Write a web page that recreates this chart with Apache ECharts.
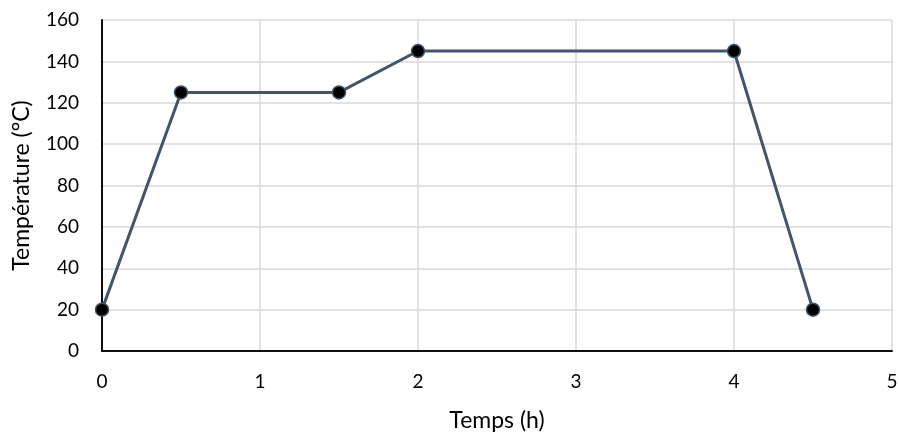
<!DOCTYPE html>
<html><head><meta charset="utf-8">
<script src="https://cdn.jsdelivr.net/npm/echarts@6/dist/echarts.min.js"></script>
<style>html,body{margin:0;padding:0;background:#fff}#c{width:899px;height:434px}</style>
</head><body><div id="c"></div>
<script>
const timeH = [0, 0.5, 1.5, 2, 4, 4.5];
const tempC = [20, 125, 125, 145, 145, 20];
const xTitle = 'Temps (h)';
const yTitle = 'Température (°C)';

const chart = echarts.init(document.getElementById('c'), null, {renderer: 'canvas'});
const font = 'Lato';
const frameLine = {show: true, lineStyle: {color: '#000', width: 1.5}};
chart.setOption({
  animation: false,
  grid: {left: 102, right: 7, top: 20, bottom: 83, containLabel: false, outerBoundsMode: 'none'},
  xAxis: [{
    type: 'value', min: 0, max: 5, interval: 1,
    name: xTitle, nameLocation: 'middle', nameGap: 58,
    nameTextStyle: {fontFamily: font, fontSize: 23, color: '#000'},
    axisLine: frameLine,
    axisTick: {show: false},
    axisLabel: {fontFamily: font, fontSize: 19, color: '#000', margin: 21},
    splitLine: {show: true, lineStyle: {color: '#d9d9d9', width: 1.5}}
  }, {
    type: 'value', min: 0, max: 5, interval: 1, position: 'top',
    axisLine: frameLine, axisTick: {show: false}, axisLabel: {show: false}, splitLine: {show: false}
  }],
  yAxis: [{
    type: 'value', min: 0, max: 160, interval: 20,
    name: yTitle, nameLocation: 'middle', nameGap: 69,
    nameTextStyle: {fontFamily: font, fontSize: 23, color: '#000'},
    axisLine: frameLine,
    axisTick: {show: false},
    axisLabel: {fontFamily: font, fontSize: 19, color: '#000', margin: 23},
    splitLine: {show: true, lineStyle: {color: '#d9d9d9', width: 1.5}}
  }, {
    type: 'value', min: 0, max: 160, interval: 20, position: 'right',
    axisLine: frameLine, axisTick: {show: false}, axisLabel: {show: false}, splitLine: {show: false}
  }],
  series: [{
    type: 'line',
    data: timeH.map((t, i) => [t, tempC[i]]),
    lineStyle: {color: '#44546a', width: 3},
    symbol: 'circle', symbolSize: 13,
    itemStyle: {color: '#000', borderColor: '#44546a', borderWidth: 1.5},
    z: 5
  }]
});
</script></body></html>
